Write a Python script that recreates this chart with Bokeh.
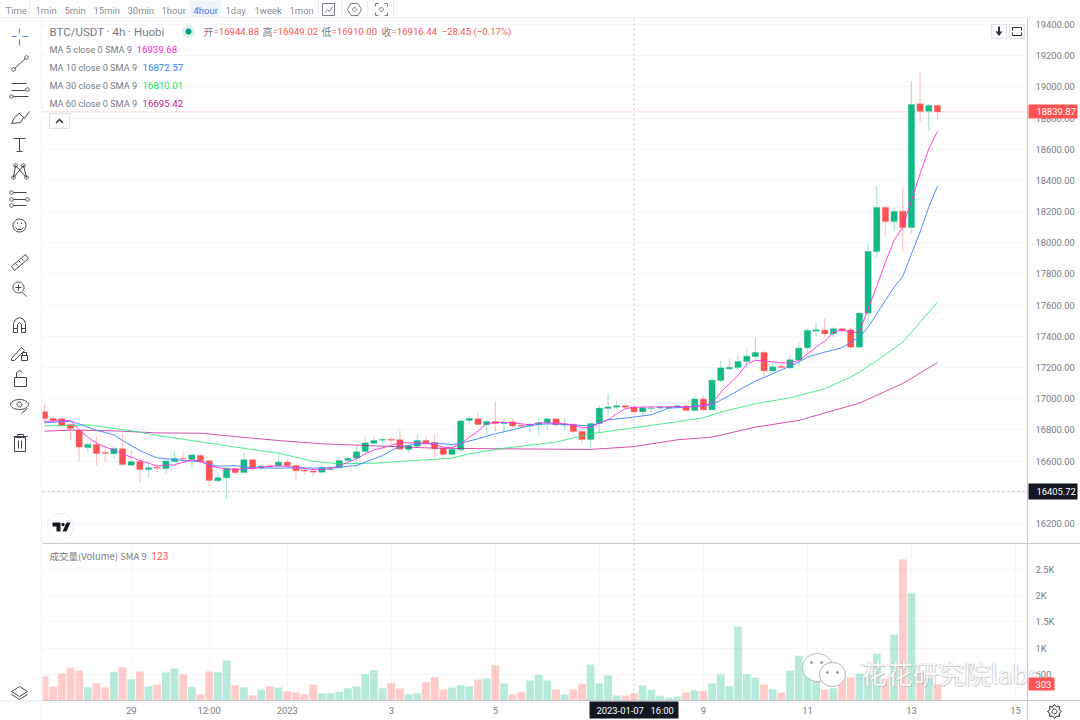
import math

from bokeh.core.properties import value
from bokeh.embed import file_html
from bokeh.layouts import column, row
from bokeh.models import FixedTicker, Label, NumeralTickFormatter, PolyAnnotation, Range1d, Span
from bokeh.plotting import figure
from bokeh.resources import INLINE

opens = [16916, 16873, 16871, 16835, 16797, 16687, 16707, 16655, 16647, 16679, 16574, 16598, 16546, 16559, 16553, 16598,
         16617, 16611, 16636, 16602, 16474, 16493, 16553, 16527, 16608, 16555, 16570, 16568, 16593, 16572, 16542, 16536,
         16529, 16546, 16557, 16604, 16619, 16662, 16715, 16734, 16739, 16737, 16675, 16696, 16732, 16720, 16681, 16643,
         16673, 16861, 16871, 16833, 16854, 16841, 16852, 16829, 16824, 16833, 16846, 16871, 16831, 16835, 16790, 16739,
         16841, 16938, 16946, 16955, 16946, 16916, 16938, 16940, 16940, 16944, 16953, 16925, 16998, 16929, 17117, 17192,
         17201, 17239, 17271, 17297, 17179, 17207, 17198, 17248, 17327, 17434, 17440, 17416, 17449, 17442, 17331, 17549,
         17944, 18226, 18137, 18203, 18098, 18891, 18844, 18881]
closes = [16873, 16861, 16829, 16809, 16690, 16707, 16649, 16651, 16681, 16578, 16596, 16546, 16557, 16555, 16600, 16617,
          16613, 16640, 16598, 16476, 16493, 16555, 16527, 16608, 16551, 16568, 16563, 16593, 16572, 16538, 16536, 16529,
          16559, 16551, 16604, 16617, 16660, 16717, 16732, 16739, 16734, 16677, 16698, 16732, 16717, 16681, 16643, 16675,
          16858, 16873, 16835, 16854, 16841, 16850, 16826, 16824, 16835, 16846, 16871, 16833, 16837, 16790, 16739, 16841,
          16940, 16948, 16955, 16946, 16916, 16942, 16942, 16946, 16946, 16955, 16925, 16998, 16929, 17119, 17198, 17201,
          17239, 17273, 17297, 17179, 17205, 17201, 17250, 17325, 17438, 17442, 17416, 17449, 17436, 17331, 17549, 17944,
          18226, 18137, 18201, 18098, 18887, 18844, 18881, 18840]
highs = [16968, 16891, 16882, 16848, 16801, 16720, 16760, 16700, 16690, 16784, 16668, 16600, 16587, 16578, 16608, 16662,
         16655, 16647, 16647, 16608, 16527, 16561, 16557, 16655, 16613, 16578, 16583, 16647, 16613, 16576, 16561, 16551,
         16572, 16568, 16625, 16630, 16700, 16754, 16754, 16754, 16754, 16796, 16705, 16773, 16758, 16771, 16690, 16690,
         16863, 16895, 16910, 16861, 16982, 16871, 16873, 16844, 16850, 16878, 16876, 16873, 16873, 16839, 16801, 16844,
         16957, 17032, 16983, 16963, 16959, 16957, 16950, 16950, 16953, 16959, 16968, 17015, 17023, 17134, 17245, 17256,
         17284, 17320, 17391, 17305, 17235, 17228, 17282, 17363, 17449, 17491, 17513, 17459, 17459, 17459, 17555, 17993,
         18365, 18239, 18224, 18357, 19034, 19099, 18891, 18885]
lows = [16850, 16846, 16818, 16737, 16600, 16658, 16572, 16593, 16617, 16572, 16570, 16463, 16493, 16525, 16521, 16585,
        16587, 16559, 16581, 16440, 16465, 16350, 16514, 16523, 16540, 16540, 16546, 16559, 16561, 16476, 16514, 16501,
        16519, 16544, 16551, 16600, 16557, 16636, 16707, 16677, 16711, 16673, 16655, 16685, 16690, 16623, 16615, 16636,
        16658, 16839, 16831, 16764, 16790, 16786, 16814, 16814, 16788, 16764, 16801, 16822, 16794, 16779, 16715, 16685,
        16786, 16893, 16929, 16933, 16908, 16886, 16908, 16921, 16921, 16938, 16921, 16921, 16923, 16927, 17104, 17181,
        17186, 17190, 17245, 17139, 17160, 17196, 17192, 17209, 17278, 17399, 17391, 17395, 17421, 17322, 17320, 17480,
        17908, 18047, 18075, 17944, 18062, 18774, 18720, 18784]
volumes = [464, 267, 515, 623, 572, 254, 331, 248, 547, 636, 407, 553, 273, 305, 534, 611,
           502, 261, 121, 553, 541, 763, 286, 254, 102, 204, 273, 248, 178, 159, 121, 305,
           134, 140, 165, 235, 267, 502, 579, 235, 331, 229, 121, 134, 350, 445, 216, 248,
           293, 273, 401, 420, 674, 324, 121, 165, 382, 490, 382, 210, 114, 210, 318, 687,
           331, 477, 95, 95, 134, 286, 204, 89, 57, 76, 153, 191, 184, 331, 490, 273,
           1412, 502, 432, 305, 216, 146, 572, 852, 617, 362, 210, 235, 413, 445, 509, 496,
           890, 413, 1259, 2690, 2048, 572, 432, 303]

ma5 = [16854, 16857, 16860, 16861, 16801, 16754, 16715, 16690, 16672, 16647, 16625, 16604, 16587, 16568, 16574, 16576,
       16593, 16608, 16600, 16572, 16557, 16551, 16546, 16551, 16553, 16561, 16566, 16570, 16566, 16559, 16553, 16546,
       16544, 16553, 16570, 16593, 16615, 16647, 16672, 16685, 16700, 16720, 16717, 16717, 16715, 16705, 16690, 16685,
       16711, 16754, 16792, 16839, 16848, 16848, 16846, 16839, 16833, 16844, 16846, 16844, 16839, 16833, 16814, 16815,
       16844, 16865, 16903, 16936, 16946, 16946, 16948, 16948, 16948, 16950, 16946, 16950, 16957, 16968, 17042, 17096,
       17149, 17224, 17245, 17243, 17237, 17230, 17230, 17245, 17288, 17331, 17369, 17427, 17442, 17425, 17427, 17577,
       17720, 17876, 18015, 18100, 18271, 18442, 18603, 18714]
ma10_x = [0, 3, 4, 5, 6, 7, 8, 9, 10, 11, 12, 13, 14, 16, 18, 19, 20, 22, 24, 27, 29, 31, 33, 36, 37, 38, 39, 40, 41, 42,
          43, 45, 47, 48, 50, 52, 54, 56, 58, 60, 62, 63, 65, 67, 70, 72, 74, 77, 79, 82, 84, 87, 88, 90, 92, 93, 94, 95,
          96, 97, 98, 99, 100, 101, 102, 103]
ma10 = [16846, 16856, 16839, 16818, 16797, 16784, 16769, 16732, 16700, 16668, 16643, 16621, 16615, 16604, 16596, 16578,
        16568, 16570, 16557, 16555, 16557, 16555, 16557, 16572, 16593, 16615, 16636, 16668, 16694, 16700, 16711, 16715,
        16707, 16715, 16743, 16775, 16801, 16829, 16839, 16835, 16829, 16825, 16865, 16876, 16897, 16940, 16946, 16961,
        17021, 17113, 17160, 17235, 17267, 17299, 17327, 17363, 17395, 17459, 17545, 17630, 17716, 17784, 17929, 18068,
        18229, 18363]
ma30_x = [0, 3, 5, 11, 13, 17, 22, 27, 31, 34, 38, 47, 49, 53, 59, 63, 68, 70, 74, 76, 78, 82, 86, 90, 93, 94, 96, 99, 103]
ma30 = [16826, 16829, 16833, 16786, 16764, 16732, 16690, 16651, 16598, 16583, 16587, 16619, 16647, 16683, 16722, 16775,
        16814, 16829, 16861, 16878, 16914, 16968, 17006, 17064, 17139, 17171, 17245, 17363, 17619]
ma60_x = [0, 3, 8, 13, 18, 23, 27, 32, 39, 45, 52, 63, 68, 73, 77, 82, 87, 94, 99, 103]
ma60 = [16792, 16799, 16794, 16781, 16779, 16752, 16732, 16711, 16696, 16683, 16679, 16675, 16693, 16737, 16754, 16818,
        16861, 16972, 17098, 17232]

price_ticks = [16200, 16400, 16600, 16800, 17000, 17200, 17400, 17600, 17800, 18000, 18200, 18400, 18600, 18800, 19000, 19200, 19400]
volume_ticks = [500, 1000, 1500, 2000, 2500]
volume_labels = ["500", "1K", "1.5K", "2K", "2.5K"]
time_ticks = [10, 19, 28, 40, 52, 64, 76, 88, 100, 112]
time_labels = ["29", "12:00", "2023", "3", "5", "7", "9", "11", "13", "15"]
intervals = ["Time", "1min", "5min", "15min", "30min", "1hour", "4hour", "1day", "1week", "1mon"]
interval_x = [5, 35, 64, 93, 127, 161, 193, 225, 254, 289]

GREEN = "#12b886"
RED = "#ff5252"
GREY = "#787b86"
DARK = "#2a2e39"
ICON = "#434651"
GRID = "#f5f6f8"
LINE = "#c3c6ce"
FONT = "Roboto"
AXIS_END = 113.38

xs = list(range(len(closes)))
colors = [GREEN if c >= o else RED for o, c in zip(opens, closes)]
x_range = Range1d(-0.23, 119.5)


def ellipse(cx, cy, rx, ry, n=32):
    return [(cx + rx * math.cos(2 * math.pi * k / n), cy + ry * math.sin(2 * math.pi * k / n)) for k in range(n)]


def rect(x0, y0, x1, y1):
    return [(x0, y0), (x1, y0), (x1, y1), (x0, y1)]


# overlays are placed in page pixels, the frame corner turns them into screen units
def poly(fig, left, bottom, pts, fill="white", fill_alpha=1.0, line="#e0e3eb", line_alpha=1.0, width=1):
    fig.add_layout(PolyAnnotation(xs=[x - left for x, y in pts], ys=[bottom - y for x, y in pts],
                                  xs_units="screen", ys_units="screen", fill_color=fill, fill_alpha=fill_alpha,
                                  line_color=line, line_alpha=line_alpha, line_width=width))


def text(fig, left, bottom, x, y, s, color=GREY, size=10, font=FONT, align="left", alpha=1.0):
    fig.add_layout(Label(x=x - left, y=bottom - y, x_units="screen", y_units="screen", text=s, text_color=color,
                         text_font=font, text_font_size=f"{size}px", text_baseline="middle", text_align=align,
                         text_alpha=alpha))


def chrome(width, height, x0, x1, y0, y1):
    fig = figure(width=width, height=height, x_range=(x0, x1), y_range=(y1, y0), x_axis_type=None, y_axis_type=None,
                 toolbar_location=None, output_backend="svg", min_border=0, outline_line_color=None)
    fig.grid.visible = False
    return fig


def strokes(fig, lines, color=ICON, width=1):
    fig.multi_line([[x for x, y in l] for l in lines], [[y for x, y in l] for l in lines],
                   line_color=color, line_width=width)


def rings(fig, pts, r=1.8, color=ICON):
    for x, y in pts:
        strokes(fig, [ellipse(x, y, r, r, 12) + [(x + r, y)]], color)


def style_axis(ax):
    ax.major_tick_line_color = None
    ax.minor_tick_line_color = None
    ax.major_tick_out = 0
    ax.minor_tick_out = 0
    ax.axis_line_color = LINE
    ax.major_label_text_color = GREY
    ax.major_label_text_font = FONT
    ax.major_label_text_font_size = "9.4px"


# top bar
top = chrome(1080, 18, 0, 1080, 0, 18)
top.quad(left=[189], right=[220], top=[0], bottom=[17], fill_color="#f0f3fa", line_color=None)
for name, x in zip(intervals, interval_x):
    top.text([x], [9.5], text=[name], text_color="#2962ff" if name == "4hour" else GREY, text_font=value(FONT),
             text_font_size="9.5px", text_baseline="middle", text_alpha=0.9)
strokes(top, [[(x, 0), (x, 17)] for x in (29, 318, 341, 367, 393)], "#e9ebf0")
strokes(top, [[(0, 17.5), (1080, 17.5)]], "#e0e3eb")
strokes(top, [rect(322, 3, 334, 15) + [(322, 3)], [(325, 12), (327, 9), (329, 11), (332, 6)]], "#787b86")
strokes(top, [ellipse(354, 9, 7, 7, 6) + [(361, 9)], ellipse(354, 9, 2, 2, 12) + [(356, 9)]], "#787b86")
strokes(top, [[(375, 6), (375, 3), (378, 3)], [(384, 3), (387, 3), (387, 6)], [(387, 12), (387, 15), (384, 15)],
              [(378, 15), (375, 15), (375, 12)], ellipse(381, 9, 2, 2, 12) + [(383, 9)]], "#787b86")

# left drawing tools
left = chrome(42, 702, 0, 42, 18, 720)
strokes(left, [[(41.5, 18), (41.5, 720)], [(0, 700.5), (41.5, 700.5)]], "#e0e3eb")
strokes(left, [[(11, 36), (16, 36)], [(22, 36), (28, 36)], [(19, 28), (19, 33)], [(19, 39), (19, 45)]], "#5b8cff", 1.2)
strokes(left, [[(14, 68), (25, 58)]])
rings(left, [(13, 69), (26, 57)])
strokes(left, [[(11, 83), (26, 83)], [(11, 90), (25, 90)], [(13, 96), (28, 96)]])
rings(left, [(27, 89), (11, 96)])
strokes(left, [[(11, 123), (14, 117), (19, 113), (23, 117), (20, 122), (11, 123)], [(22, 116), (24, 118), (29, 111)]])
strokes(left, [[(13, 138), (25, 138)], [(19, 138), (19, 151)], [(16, 151), (22, 151)]])
strokes(left, [[(13, 177), (15, 165), (26, 177), (23, 165), (13, 177)]])
rings(left, [(13, 177), (15, 165), (26, 177), (23, 165)])
strokes(left, [[(13, 192), (26, 192)], [(13, 199), (25, 199)], [(13, 205), (26, 205)]])
rings(left, [(11, 192), (11, 199), (27, 199), (11, 205)])
strokes(left, [ellipse(19, 225, 6.5, 6.5) + [(25.5, 225)], [(15, 227), (17, 229), (21, 229), (23, 227)],
               [(17, 222), (17, 223.5)], [(21, 222), (21, 223.5)]])
strokes(left, [[(11, 266), (25, 254), (28, 258), (14, 270), (11, 266)], [(15, 263), (17, 265)], [(18, 260), (20, 262)],
               [(21, 258), (23, 260)]])
strokes(left, [ellipse(18, 287, 5.5, 5.5) + [(23.5, 287)], [(22, 292), (26, 296)], [(15, 287), (21, 287)], [(18, 284), (18, 290)]])
strokes(left, [[(13, 332), (13, 323), (15, 319), (19, 317), (23, 319), (25, 323), (25, 332), (21, 332), (21, 324),
                (19, 322), (17, 324), (17, 332), (13, 332)], [(13, 328), (17, 328)], [(21, 328), (25, 328)]])
strokes(left, [[(11, 358), (21, 347), (24, 350), (14, 360), (11, 360), (11, 358)], rect(21, 355, 27, 360) + [(21, 355)],
               [(22, 355), (22, 352), (26, 352), (26, 355)]])
strokes(left, [rect(14, 377, 26, 386) + [(14, 377)], [(16, 377), (16, 372), (19, 370), (22, 372)]])
strokes(left, [ellipse(19, 404, 9, 5) + [(28, 404)], ellipse(19, 404, 2.5, 2.5, 12) + [(21.5, 404)], [(21, 413), (27, 408)]])
strokes(left, [rect(14, 437, 25, 451) + [(14, 437)], [(13, 436), (27, 436)], [(17, 436), (17, 434), (23, 434), (23, 436)],
               [(18, 440), (18, 448)], [(21, 440), (21, 448)]])
strokes(left, [[(19, 686), (27, 691), (19, 696), (11, 691), (19, 686)], [(11, 694), (19, 699), (27, 694)]])

# price pane, the frame runs to the page edge so the axis flags are not clipped
price_low, price_high = 16078.1, 19438.4
price = figure(frame_width=1038, frame_height=524, x_range=x_range, y_range=Range1d(price_low, price_high),
               x_axis_type=None, y_axis_location="right", toolbar_location=None, output_backend="svg", min_border_left=0,
               min_border_right=0, min_border_top=0, min_border_bottom=1, outline_line_color=None)
price.xgrid.ticker = FixedTicker(ticks=time_ticks)
price.xgrid.grid_line_color = GRID
price.ygrid.ticker = FixedTicker(ticks=price_ticks)
price.ygrid.grid_line_color = GRID
style_axis(price.yaxis)
price.yaxis.fixed_location = AXIS_END
price.yaxis.ticker = FixedTicker(ticks=price_ticks)
price.yaxis.formatter = NumeralTickFormatter(format="0.00")
price.yaxis.major_label_standoff = 8
price.yaxis.major_label_text_align = "left"

price.add_layout(Span(location=18839.87, dimension="width", line_color=RED, line_alpha=0.4, line_dash=[2, 2], line_width=1, level="underlay"))
price.add_layout(Span(location=16405.72, dimension="width", line_color="#9598a1", line_alpha=0.6, line_dash=[2, 3], line_width=1, level="underlay"))
price.add_layout(Span(location=68, dimension="height", line_color="#9598a1", line_alpha=0.6, line_dash=[2, 3], line_width=1, level="underlay"))
price.quad(left=[AXIS_END], right=[120], bottom=[price_low], top=[price_high], fill_color="white", line_color=None)

price.segment(xs, highs, xs, lows, color=colors, alpha=0.35, line_width=1.2)
price.vbar(xs, 0.72, opens, closes, fill_color=colors, line_color=colors, line_alpha=0.5, line_width=0.6)
price.line(ma60_x, ma60, line_color="#c2188f", line_width=1, line_alpha=0.75)
price.line(ma30_x, ma30, line_color="#2ee577", line_width=1, line_alpha=0.85)
price.line(ma10_x, ma10, line_color="#4d8dff", line_width=1)
price.line(xs, ma5, line_color="#ff30e0", line_width=1, line_alpha=0.9)

L, B = 42, 542
text(price, L, B, 49, 31, "BTC/USDT · 4h · Huobi", size=11.5)
poly(price, L, B, ellipse(188, 31, 6.5, 6.5), fill="#d6f3ea", line=None)
poly(price, L, B, ellipse(188, 31, 3, 3), fill="#089981", line=None)
for x, lab, val in [(203, "开", "=16944.88"), (262, "高", "=16949.02"), (321, "低", "=16910.00"), (381, "收", "=16916.44")]:
    text(price, L, B, x, 31, lab, size=10, font="Noto Sans CJK SC")
    text(price, L, B, x + 10, 31, val, color=RED, size=9.6)
text(price, L, B, 441, 31, "−28.45 (−0.17%)", color=RED, size=9.6)

legend = [("MA 5 close 0 SMA 9", "16939.68", "#ff1fd8", 49, 136), ("MA 10 close 0 SMA 9", "16872.57", "#2f86ff", 67, 142),
          ("MA 30 close 0 SMA 9", "16810.01", "#14e06a", 85, 142), ("MA 60 close 0 SMA 9", "16695.42", "#c2188f", 103, 142)]
for name, val, col, y, vx in legend:
    text(price, L, B, 49, y, name, size=9.2)
    text(price, L, B, vx, y, val, color=col, size=9.7)

poly(price, L, B, rect(49, 113, 69, 128))
poly(price, L, B, [(55, 122), (59, 118), (63, 122), (62, 123), (59, 120), (56, 123)], fill=DARK, line=None)

for cx in (998.5, 1016.5):
    poly(price, L, B, rect(cx - 7.5, 24, cx + 7.5, 38))
poly(price, L, B, [(997.5, 26), (999.5, 26), (999.5, 31), (1002, 31), (998.5, 35.5), (995, 31), (997.5, 31)], fill=DARK, line=None)
poly(price, L, B, rect(1012, 27, 1021, 35), fill="white", line=DARK)
poly(price, L, B, rect(1011, 30, 1022, 32), fill="white", line=None)

# tradingview badge
poly(price, L, B, ellipse(60, 526, 13, 13), fill="white", line="#eceef2")
poly(price, L, B, [(52, 522), (60, 522), (60, 531), (56, 531), (56, 526), (52, 526)], fill="#131722", line=None)
poly(price, L, B, ellipse(62.5, 524, 1.7, 1.7, 12), fill="#131722", line=None)
poly(price, L, B, [(66, 522), (70, 522), (66, 531), (62, 531)], fill="#131722", line=None)

poly(price, L, B, rect(1028, 104, 1077, 118), fill=RED, line=None)
text(price, L, B, 1036, 111, "18839.87", color="white", size=9.4)
poly(price, L, B, rect(1028, 483, 1077, 499), fill="#131722", line=None)
text(price, L, B, 1036, 491, "16405.72", color="white", size=9.4)

# volume pane
vol_low, vol_high = -381.7, 2996
vol = figure(frame_width=1038, frame_height=177, x_range=x_range, y_range=Range1d(vol_low, vol_high), y_axis_location="right",
             toolbar_location=None, output_backend="svg", min_border_left=0, min_border_right=0, min_border_top=0,
             min_border_bottom=0, outline_line_color=None)
vol.xgrid.ticker = FixedTicker(ticks=time_ticks)
vol.xgrid.grid_line_color = GRID
vol.ygrid.ticker = FixedTicker(ticks=volume_ticks)
vol.ygrid.grid_line_color = GRID
style_axis(vol.xaxis)
style_axis(vol.yaxis)
vol.xaxis.fixed_location = 0
vol.yaxis.fixed_location = AXIS_END
vol.xaxis.ticker = FixedTicker(ticks=time_ticks)
vol.xaxis.major_label_overrides = dict(zip(time_ticks, time_labels))
vol.yaxis.ticker = FixedTicker(ticks=volume_ticks)
vol.yaxis.major_label_overrides = dict(zip(volume_ticks, volume_labels))
vol.xaxis.major_label_standoff = 5
vol.yaxis.major_label_standoff = 8
vol.yaxis.major_label_text_align = "left"

vol.add_layout(Span(location=68, dimension="height", line_color="#9598a1", line_alpha=0.6, line_dash=[2, 3], line_width=1, level="underlay"))
vol.quad(left=[AXIS_END], right=[120], bottom=[vol_low], top=[vol_high], fill_color="white", line_color=None)
vol.quad(left=[-1], right=[120], bottom=[vol_low], top=[0], fill_color="white", line_color=None)
vol.vbar(xs, 0.9, volumes, 0, fill_color=colors, fill_alpha=0.3, line_color=None)

B2 = 720
poly(vol, L, B2, rect(42, 542.5, 1080, 543.5), fill="#9598a1", line=None)
text(vol, L, B2, 49, 555, "成交量(Volume) SMA 9", size=9.5, font="Noto Sans CJK SC")
text(vol, L, B2, 151, 555, "123", color=RED, size=10)
poly(vol, L, B2, rect(589, 701, 678, 718), fill="#131722", line=None)
text(vol, L, B2, 596, 710, "2023-01-07", color="white", size=9.4)
text(vol, L, B2, 650, 710, "16:00", color="white", size=9.4)

# gear in the corner
gear = [(1054 + (7 if k % 2 == 0 else 5) * math.cos(math.pi * k / 8), 711 + (7 if k % 2 == 0 else 5) * math.sin(math.pi * k / 8)) for k in range(16)]
poly(vol, L, B2, gear, fill="white", line=DARK)
poly(vol, L, B2, ellipse(1054, 711, 2.5, 2.5, 12), fill="white", line=DARK)

# watermark sits on top of the volume bars
poly(vol, L, B2, ellipse(817, 667, 15, 14), fill="white", fill_alpha=0.92, line="#9a9a9a", line_alpha=0.7)
poly(vol, L, B2, ellipse(832, 674, 13, 12), fill="white", fill_alpha=0.95, line="#9a9a9a", line_alpha=0.7)
for cx, cy in [(811, 662), (821, 662), (827, 672), (837, 672)]:
    poly(vol, L, B2, ellipse(cx, cy, 1.4, 1.4, 10), fill="#8a8a8a", line=None)
for dx, dy in [(-1, 0), (1, 1)]:
    text(vol, L, B2, 860 + dx, 672 + dy, "花花研究院labs", color="#a8a8a8", size=26, font="Noto Sans CJK SC", alpha=0.55)
text(vol, L, B2, 860, 672, "花花研究院labs", color="white", size=26, font="Noto Sans CJK SC", alpha=0.9)

poly(vol, L, B2, rect(1028, 677, 1054, 690), fill=RED, line=None)
text(vol, L, B2, 1035, 684, "303", color="white", size=9.4)

page = column(top, row(left, column(price, vol)))
open("out.html", "w").write(file_html(page, INLINE))
